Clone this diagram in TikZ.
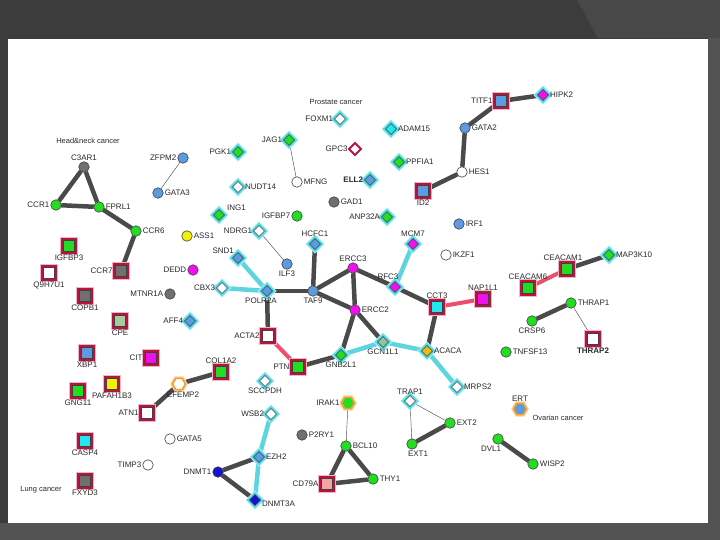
\documentclass[tikz,border=0pt]{standalone}
\usepackage{fontspec}
\setmainfont{Liberation Sans}
\usetikzlibrary{shapes.geometric}
\definecolor{ngreen}{HTML}{22DD22}
\definecolor{nblue}{HTML}{5B9BE0}
\definecolor{ngray}{HTML}{707070}
\definecolor{nmag}{HTML}{EE11EE}
\definecolor{nyel}{HTML}{F2F200}
\definecolor{ndblue}{HTML}{1414D2}
\definecolor{ncyan}{HTML}{22E6F0}
\definecolor{nsage}{HTML}{8FC4A0}
\definecolor{ncpe}{HTML}{A8CCA0}
\definecolor{ngold}{HTML}{E8BC10}
\definecolor{npink}{HTML}{F4A4A4}
\definecolor{halocyan}{HTML}{55DCE6}
\definecolor{sqred}{HTML}{B8143E}
\definecolor{hexor}{HTML}{F0A030}
\definecolor{gedgec}{HTML}{4A4A4A}
\definecolor{cedgec}{HTML}{5ED4DE}
\definecolor{pedgec}{HTML}{EE4E6E}
\definecolor{labc}{HTML}{2A2A2A}
\definecolor{bgdark}{HTML}{3C3C3C}
\definecolor{bgmid}{HTML}{484848}
\definecolor{bglight}{HTML}{535353}
\pgfdeclarelayer{bgl}
\pgfdeclarelayer{edgel}
\pgfsetlayers{bgl,edgel,main}
\begin{document}
\begin{tikzpicture}[x=1pt,y=-1pt,
 base/.style={inner sep=0pt, outer sep=0pt, draw=black!75, line width=0.6pt},
 circ/.style={base, circle, minimum size=10.5pt, fill=#1},
 dia/.style={base, diamond, minimum size=11pt, fill=#1, preaction={draw=halocyan!45, line width=6pt}, preaction={draw=halocyan, line width=4pt}},
 sqr/.style={base, rectangle, minimum size=11pt, fill=#1, preaction={draw=sqred!30, line width=7pt}, preaction={draw=sqred, line width=4.5pt}},
 hexn/.style={base, regular polygon, regular polygon sides=6, minimum size=13pt, fill=#1, draw=hexor, line width=1.6pt, preaction={draw=hexor!45, line width=4pt}},
 reddia/.style={base, diamond, minimum size=12pt, fill=white, draw=sqred, line width=2pt},
 every label/.style={font=\fontsize{8}{9}\selectfont, text=labc, inner sep=0.8pt},
 label distance=0.5pt,
 gedge/.style={draw=gedgec, line width=4.5pt},
 cedge/.style={draw=cedgec, line width=4.5pt},
 pedge/.style={draw=pedgec, line width=4pt},
 tedge/.style={draw=black!70, line width=0.45pt},
 canc/.style={font=\fontsize{7.5}{9}\selectfont, text=labc, inner sep=0pt},
]
\useasboundingbox (0,0) rectangle (720,540);
\begin{pgfonlayer}{bgl}
\fill[bgdark] (0,0) rectangle (720,540);
\fill[bgmid] (577,0) -- (720,0) -- (720,38) -- (598,38) -- cycle;
\fill[bglight] (708,38) rectangle (720,540);
\fill[bglight] (0,523) rectangle (720,540);
\fill[white] (8,39) rectangle (708,523);
\end{pgfonlayer}

% cancer texts
\node[canc] (tprost) at (336,102) {Prostate cancer};
\node[canc] (thead) at (88,141) {Head\&neck cancer};
\node[canc] (tovar) at (558,418) {Ovarian cancer};
\node[canc] (tlung) at (41,490) {Lung cancer};

% circles
\node[circ=ngray, label=above:C3AR1] (C3AR1) at (84,167) {};
\node[circ=ngreen, label=left:CCR1] (CCR1) at (56,205) {};
\node[circ=ngreen, label=right:FPRL1] (FPRL1) at (99,207) {};
\node[circ=ngreen, label=right:CCR6] (CCR6) at (136,231) {};
\node[circ=nblue, label=left:ZFPM2] (ZFPM2) at (183,158) {};
\node[circ=nblue, label=right:GATA3] (GATA3) at (158,193) {};
\node[circ=white, label=right:MFNG] (MFNG) at (297,182) {};
\node[circ=ngray, label=right:GAD1] (GAD1) at (334,202) {};
\node[circ=ngreen, label=left:IGFBP7] (IGFBP7) at (297,216) {};
\node[circ=nblue, label=right:GATA2] (GATA2) at (465,128) {};
\node[circ=white, label=right:HES1] (HES1) at (462,172) {};
\node[circ=nblue, label=right:IRF1] (IRF1) at (459,224) {};
\node[circ=white, label=right:IKZF1] (IKZF1) at (446,255) {};
\node[circ=nyel, label=right:ASS1] (ASS1) at (187,236) {};
\node[circ=nmag, label=left:DEDD] (DEDD) at (193,270) {};
\node[circ=ngray, label=left:MTNR1A] (MTNR1A) at (170,294) {};
\node[circ=nblue, label=below:ILF3] (ILF3) at (287,264) {};
\node[circ=nmag, label=above:ERCC3] (ERCC3) at (353,268) {};
\node[circ=nblue, label=below:TAF9] (TAF9) at (313,291) {};
\node[circ=nmag, label=right:ERCC2] (ERCC2) at (355,310) {};
\node[circ=ngreen, label=right:THRAP1] (THRAP1) at (571,303) {};
\node[circ=ngreen, label=below:CRSP6] (CRSP6) at (532,321) {};
\node[circ=ngreen, label=right:TNFSF13] (TNFSF13) at (506,352) {};
\node[circ=white, label=right:GATA5] (GATA5) at (170,439) {};
\node[circ=white, label=left:TIMP3] (TIMP3) at (148,465) {};
\node[circ=ndblue, label=left:DNMT1] (DNMT1) at (218,472) {};
\node[circ=ngray, label=right:P2RY1] (P2RY1) at (302,435) {};
\node[circ=ngreen, label=right:BCL10] (BCL10) at (346,446) {};
\node[circ=ngreen, label=right:THY1] (THY1) at (373,479) {};
\node[circ=ngreen, label=right:EXT2] (EXT2) at (450,423) {};
\node[circ=ngreen, label={[xshift=6pt]below:EXT1}] (EXT1) at (412,444) {};
\node[circ=ngreen, label={[xshift=-7pt]below:DVL1}] (DVL1) at (498,439) {};
\node[circ=ngreen, label=right:WISP2] (WISP2) at (533,464) {};

% diamonds
\node[dia=ngreen, label=left:PGK1] (PGK1) at (238,152) {};
\node[dia=white, label=right:NUDT14] (NUDT14) at (238,187) {};
\node[dia=ngreen, label={[xshift=4pt]above right:ING1}] (ING1) at (219,215) {};
\node[dia=white, label=left:FOXM1] (FOXM1) at (340,119) {};
\node[dia=ncyan, label=right:ADAM15] (ADAM15) at (391,129) {};
\node[dia=ngreen, label=left:JAG1] (JAG1) at (289,140) {};
\node[reddia, label=left:GPC3] (GPC3) at (355,149) {};
\node[dia=ngreen, label=right:PPFIA1] (PPFIA1) at (399,162) {};
\node[dia=nblue, label={left:\textbf{ELL2}}] (ELL2) at (370,180) {};
\node[dia=ngreen, label=left:ANP32A] (ANP32A) at (387,217) {};
\node[dia=nmag, label=right:HIPK2] (HIPK2) at (543,95) {};
\node[dia=white, label=left:NDRG1] (NDRG1) at (259,231) {};
\node[dia=nblue, label=above:HCFC1] (HCFC1) at (315,244) {};
\node[dia=nmag, label=above:MCM7] (MCM7) at (413,244) {};
\node[dia=nblue, label=above left:SND1] (SND1) at (238,258) {};
\node[dia=white, label=left:CBX3] (CBX3) at (222,288) {};
\node[dia=nblue, label={[xshift=-6pt]below:POLR2A}] (POLR2A) at (267,291) {};
\node[dia=nmag, label={[xshift=-7pt]above:RFC3}] (RFC3) at (395,287) {};
\node[dia=nblue, label=left:AFF4] (AFF4) at (190,321) {};
\node[dia=nsage, label=below:GCN1L1] (GCN1L1) at (383,342) {};
\node[dia=ngold, label=right:ACACA] (ACACA) at (427,351) {};
\node[dia=ngreen, label=below:GNB2L1] (GNB2L1) at (341,355) {};
\node[dia=ngreen, label=right:MAP3K10] (MAP3K10) at (609,255) {};
\node[dia=white, label=below:SCCPDH] (SCCPDH) at (265,381) {};
\node[dia=white, label=left:WSB2] (WSB2) at (271,414) {};
\node[dia=nblue, label=right:EZH2] (EZH2) at (259,457) {};
\node[dia=ndblue, label={[yshift=-4pt]right:DNMT3A}] (DNMT3A) at (255,500) {};
\node[dia=white, label=above:TRAP1] (TRAP1) at (410,401) {};
\node[dia=white, label=right:MRPS2] (MRPS2) at (457,387) {};

% squares
\node[sqr=nblue, label={[label distance=2pt]left:TITF1}] (TITF1) at (501,101) {};
\node[sqr=nblue, label={[label distance=2pt]below:ID2}] (ID2) at (423,191) {};
\node[sqr=ngreen, label={[label distance=2pt]below:IGFBP3}] (IGFBP3) at (69,246) {};
\node[sqr=white, label={[label distance=2pt]below:Q9H7U1}] (Q9H7U1) at (49,273) {};
\node[sqr=ngray, label={[label distance=2pt]left:CCR7}] (CCR7) at (121,271) {};
\node[sqr=ngray, label={[label distance=2pt]below:COPB1}] (COPB1) at (85,296) {};
\node[sqr=ncpe, label={[label distance=2pt]below:CPE}] (CPE) at (120,321) {};
\node[sqr=nblue, label={[label distance=2pt]below:XBP1}] (XBP1) at (87,353) {};
\node[sqr=nmag, label={[label distance=2pt]left:CIT}] (CIT) at (151,358) {};
\node[sqr=ngreen, label={[label distance=2pt]above:COL1A2}] (COL1A2) at (221,372) {};
\node[sqr=ngreen, label={[label distance=2pt]below:GNG11}] (GNG11) at (78,391) {};
\node[sqr=nyel, label={[label distance=2pt]below:PAFAH1B3}] (PAFAH1B3) at (112,384) {};
\node[sqr=white, label={[label distance=2pt]left:ATN1}] (ATN1) at (147,413) {};
\node[sqr=ncyan, label={[label distance=2pt]below:CASP4}] (CASP4) at (85,441) {};
\node[sqr=ngray, label={[label distance=2pt]below:FXYD3}] (FXYD3) at (85,481) {};
\node[sqr=white, label={[label distance=2pt]left:ACTA2}] (ACTA2) at (268,336) {};
\node[sqr=ncyan, label={[label distance=2pt]above:CCT3}] (CCT3) at (437,307) {};
\node[sqr=nmag, label={[label distance=2pt]above:NAP1L1}] (NAP1L1) at (483,299) {};
\node[sqr=ngreen, label={[label distance=2pt]left:PTN}] (PTN) at (298,367) {};
\node[sqr=npink, label={[label distance=2pt]left:CD79A}] (CD79A) at (327,484) {};
\node[sqr=ngreen, label={[label distance=2pt,xshift=-4pt]above:CEACAM1}] (CEACAM1) at (567,269) {};
\node[sqr=ngreen, label={[label distance=2pt]above:CEACAM6}] (CEACAM6) at (528,288) {};
\node[sqr=white, label={[label distance=2pt]below:\textbf{THRAP2}}] (THRAP2) at (593,339) {};

% hexagons
\node[hexn=white, label={[xshift=4pt,label distance=1pt]below:EFEMP2}] (EFEMP2) at (179,384) {};
\node[hexn=ngreen, label={[label distance=1pt]left:IRAK1}] (IRAK1) at (348,403) {};
\node[hexn=nblue, label={[label distance=1pt]above:ERT}] (ERT) at (520,409) {};

\begin{pgfonlayer}{edgel}
% thick gray
\foreach \a/\b in {C3AR1/CCR1, C3AR1/FPRL1, CCR1/FPRL1, FPRL1/CCR6, CCR6/CCR7,
  TITF1/HIPK2, TITF1/GATA2, GATA2/HES1, HES1/ID2,
  POLR2A/TAF9, TAF9/HCFC1, TAF9/ERCC3, TAF9/ERCC2, ERCC3/ERCC2, ERCC3/RFC3,
  RFC3/CCT3, ERCC2/GCN1L1, ERCC2/GNB2L1, POLR2A/ACTA2, CCT3/ACACA, PTN/GNB2L1,
  CEACAM1/MAP3K10, THRAP1/CRSP6, ATN1/EFEMP2, EFEMP2/COL1A2,
  DNMT1/EZH2, DNMT1/DNMT3A, BCL10/CD79A, BCL10/THY1, CD79A/THY1,
  EXT1/EXT2, DVL1/WISP2}
  {\draw[gedge] (\a) -- (\b);}
% cyan
\foreach \a/\b in {RFC3/MCM7, POLR2A/SND1, POLR2A/CBX3, GNB2L1/GCN1L1,
  GCN1L1/ACACA, ACACA/MRPS2, WSB2/EZH2, EZH2/DNMT3A}
  {\draw[cedge] (\a) -- (\b);}
% pink
\foreach \a/\b in {ACTA2/PTN, CCT3/NAP1L1, CEACAM6/CEACAM1}
  {\draw[pedge] (\a) -- (\b);}
% thin
\foreach \a/\b in {ZFPM2/GATA3, JAG1/MFNG, NDRG1/ILF3, THRAP1/THRAP2,
  IRAK1/BCL10, TRAP1/EXT2, TRAP1/EXT1}
  {\draw[tedge] (\a) -- (\b);}
\end{pgfonlayer}
\end{tikzpicture}
\end{document}
